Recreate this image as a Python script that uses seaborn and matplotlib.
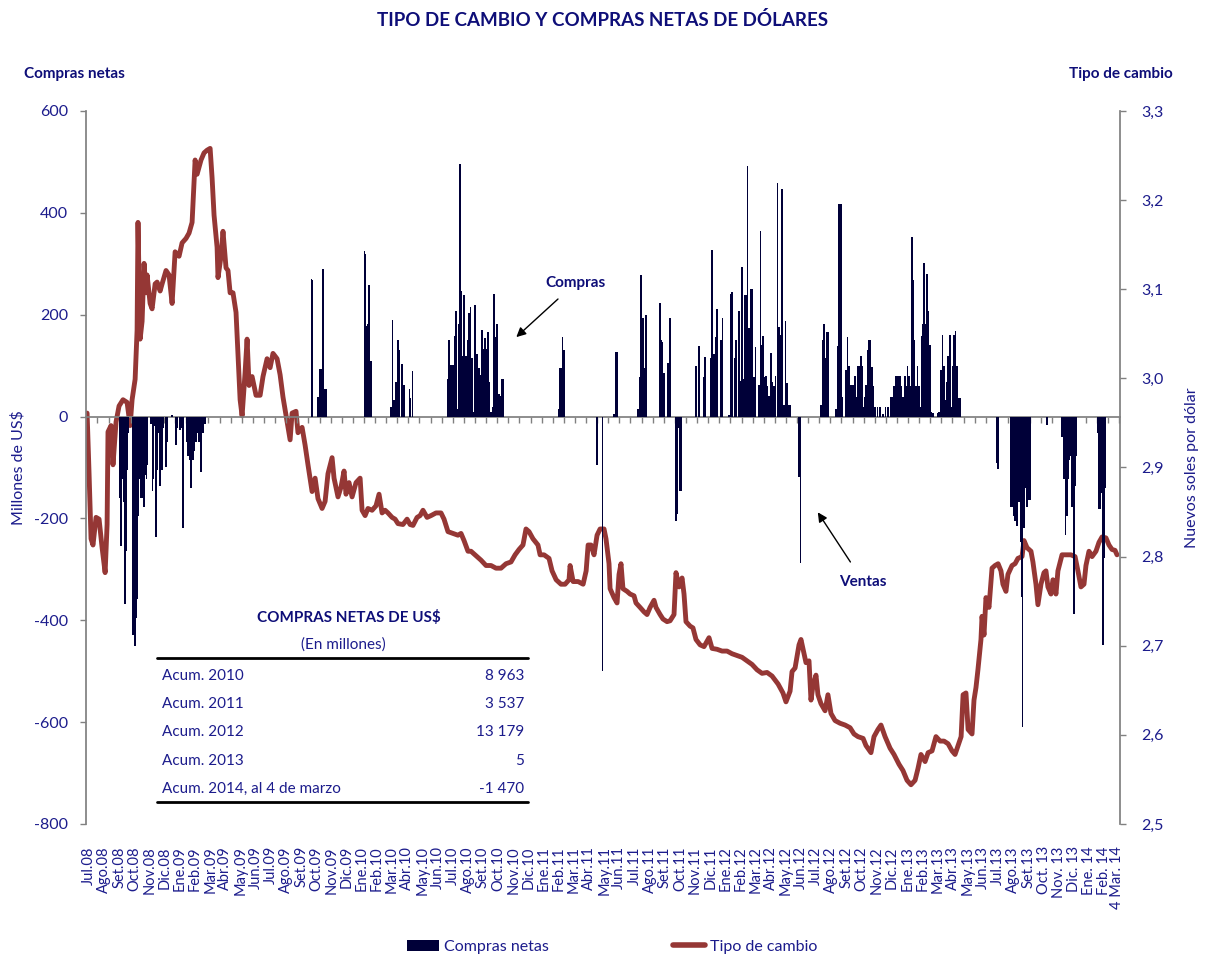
import matplotlib
matplotlib.use('Agg')
import matplotlib.pyplot as plt
import seaborn as sns
import numpy as np
from matplotlib.patches import Patch
from matplotlib.lines import Line2D

# ---- datos (eje x en meses desde Jul.08) ----
meses = ['Jul.08', 'Ago.08', 'Set.08', 'Oct.08', 'Nov.08', 'Dic.08',
         'Ene.09', 'Feb.09', 'Mar.09', 'Abr.09', 'May.09', 'Jun.09',
         'Jul.09', 'Ago.09', 'Set.09', 'Oct.09', 'Nov.09', 'Dic.09',
         'Ene.10', 'Feb.10', 'Mar.10', 'Abr.10', 'May.10', 'Jun.10',
         'Jul.10', 'Ago.10', 'Set.10', 'Oct.10', 'Nov.10', 'Dic.10',
         'Ene.11', 'Feb.11', 'Mar.11', 'Abr.11', 'May.11', 'Jun.11',
         'Jul.11', 'Ago.11', 'Set.11', 'Oct.11', 'Nov.11', 'Dic.11',
         'Ene.12', 'Feb.12', 'Mar.12', 'Abr.12', 'May.12', 'Jun.12',
         'Jul.12', 'Ago.12', 'Set.12', 'Oct.12', 'Nov.12', 'Dic.12',
         'Ene.13', 'Feb.13', 'Mar.13', 'Abr.13', 'May.13', 'Jun.13',
         'Jul.13', 'Ago.13', 'Set.13', 'Oct. 13', 'Nov. 13', 'Dic. 13',
         'Ene. 14', 'Feb. 14', '4 Mar. 14']
meses_pos = list(range(68)) + [67.85]

# tipo de cambio (soles por dolar)
tc_t = [-0.13, 0.00, 0.13, 0.26, 0.46, 0.66, 0.86, 1.06, 1.19, 1.25, 1.45, 1.58, 1.78, 1.98,
        2.24, 2.51, 2.71, 2.84, 3.04, 3.17, 3.23, 3.37, 3.50, 3.63, 3.76, 3.83, 4.03, 4.16,
        4.36, 4.49, 4.69, 4.82, 5.08, 5.28, 5.48, 5.68, 5.94, 6.14, 6.40, 6.60, 6.80, 7.00,
        7.13, 7.39, 7.59, 7.79, 7.99, 8.12, 8.25, 8.45, 8.51, 8.71, 8.84, 9.04, 9.17, 9.31,
        9.50, 9.70, 9.83, 9.97, 10.10, 10.30, 10.43, 10.56, 10.76, 11.02, 11.29, 11.48, 11.75,
        11.95, 12.14, 12.41, 12.61, 12.80, 13.07, 13.27, 13.40, 13.66, 13.79, 14.06, 14.26,
        14.45, 14.72, 14.92, 15.11, 15.38, 15.58, 15.77, 16.04, 16.17, 16.43, 16.63, 16.83,
        16.96, 17.16, 17.36, 17.62, 17.89, 18.02, 18.22, 18.41, 18.68, 18.94, 19.14, 19.34,
        19.54, 19.73, 20.00, 20.20, 20.39, 20.72, 20.99, 21.19, 21.38, 21.65, 21.85, 22.04,
        22.31, 22.57, 22.90, 23.23, 23.43, 23.69, 24.02, 24.35, 24.55, 24.75, 25.01, 25.21,
        25.54, 25.87, 26.20, 26.53, 26.86, 27.19, 27.52, 27.85, 28.12, 28.38, 28.64, 28.84,
        29.04, 29.30, 29.63, 29.77, 30.03, 30.36, 30.56, 30.83, 31.15, 31.42, 31.68, 31.75,
        31.95, 32.28, 32.61, 32.81, 32.94, 33.13, 33.33, 33.53, 33.73, 33.99, 34.12, 34.32,
        34.39, 34.65, 34.85, 34.98, 35.11, 35.24, 35.51, 35.71, 35.97, 36.10, 36.37, 36.63,
        36.83, 37.03, 37.29, 37.42, 37.69, 37.88, 38.15, 38.35, 38.61, 38.74, 38.94, 39.14,
        39.27, 39.40, 39.67, 39.86, 40.06, 40.33, 40.59, 40.92, 41.12, 41.45, 41.78, 42.11,
        42.44, 42.77, 43.10, 43.43, 43.76, 44.09, 44.42, 44.75, 45.08, 45.48, 45.80, 46.00,
        46.27, 46.40, 46.60, 46.86, 46.99, 47.19, 47.32, 47.52, 47.65, 47.78, 47.98, 48.11,
        48.31, 48.58, 48.77, 48.97, 49.24, 49.57, 49.90, 50.23, 50.49, 50.75, 51.09, 51.28,
        51.61, 51.81, 52.07, 52.27, 52.54, 52.87, 53.13, 53.46, 53.72, 53.99, 54.25, 54.52,
        54.71, 54.91, 55.18, 55.38, 55.64, 55.90, 56.17, 56.43, 56.70, 56.96, 57.16, 57.36,
        57.56, 57.69, 57.88, 58.02, 58.28, 58.41, 58.54, 58.67, 58.87, 58.94, 59.07, 59.20,
        59.40, 59.60, 59.80, 60.00, 60.19, 60.32, 60.52, 60.65, 60.92, 61.12, 61.31, 61.58,
        61.71, 61.91, 62.17, 62.30, 62.50, 62.63, 62.83, 63.03, 63.16, 63.29, 63.49, 63.62,
        63.82, 63.95, 64.22, 64.48, 64.81, 65.08, 65.27, 65.47, 65.67, 65.80, 66.00, 66.20,
        66.46, 66.66, 66.86, 67.12, 67.32, 67.52, 67.72, 67.85]
tc_v = [2.961, 2.893, 2.820, 2.813, 2.844, 2.842, 2.810, 2.782, 2.836, 2.940, 2.947, 2.903, 2.951, 2.969,
        2.976, 2.973, 2.947, 2.976, 2.999, 3.054, 3.175, 3.044, 3.064, 3.129, 3.096, 3.116, 3.084, 3.078,
        3.106, 3.108, 3.098, 3.106, 3.121, 3.116, 3.084, 3.142, 3.137, 3.152, 3.157, 3.163, 3.175, 3.245,
        3.229, 3.245, 3.253, 3.256, 3.258, 3.225, 3.183, 3.147, 3.113, 3.137, 3.165, 3.124, 3.121, 3.096,
        3.096, 3.074, 3.028, 2.976, 2.958, 3.007, 3.044, 2.992, 3.002, 2.981, 2.981, 3.002, 3.022,
        3.012, 3.028, 3.022, 3.004, 2.979, 2.951, 2.931, 2.961, 2.963, 2.939, 2.945, 2.925,
        2.903, 2.873, 2.888, 2.865, 2.854, 2.862, 2.893, 2.911, 2.888, 2.867, 2.878, 2.896,
        2.870, 2.883, 2.867, 2.883, 2.888, 2.852, 2.846, 2.854, 2.852, 2.857, 2.870, 2.849,
        2.852, 2.849, 2.844, 2.842, 2.837, 2.836, 2.842, 2.836, 2.835, 2.844, 2.846, 2.852,
        2.844, 2.846, 2.849, 2.849, 2.842, 2.828, 2.826, 2.824, 2.826, 2.818, 2.806, 2.806,
        2.801, 2.796, 2.790, 2.790, 2.787, 2.787, 2.792, 2.794, 2.802, 2.808, 2.813, 2.831,
        2.828, 2.820, 2.813, 2.802, 2.802, 2.798, 2.784, 2.774, 2.769, 2.769, 2.774, 2.790,
        2.772, 2.772, 2.769, 2.784, 2.813, 2.813, 2.802, 2.824, 2.831, 2.831, 2.820, 2.792,
        2.764, 2.754, 2.748, 2.780, 2.792, 2.764, 2.761, 2.758, 2.756, 2.748, 2.743, 2.738,
        2.735, 2.743, 2.751, 2.743, 2.735, 2.730, 2.727, 2.728, 2.735, 2.782, 2.766, 2.776,
        2.758, 2.727, 2.722, 2.720, 2.707, 2.701, 2.699, 2.709, 2.697, 2.696, 2.694, 2.694,
        2.691, 2.689, 2.687, 2.683, 2.679, 2.673, 2.669, 2.670, 2.666, 2.657, 2.647, 2.637,
        2.649, 2.671, 2.675, 2.701, 2.707, 2.691, 2.681, 2.683, 2.639, 2.655, 2.667, 2.645,
        2.635, 2.627, 2.645, 2.624, 2.616, 2.613, 2.611, 2.608, 2.601, 2.598, 2.596, 2.588,
        2.580, 2.598, 2.606, 2.611, 2.598, 2.585, 2.578, 2.567, 2.560, 2.549, 2.544, 2.549,
        2.562, 2.578, 2.570, 2.580, 2.582, 2.598, 2.593, 2.593, 2.590, 2.582, 2.578, 2.588,
        2.598, 2.645, 2.647, 2.606, 2.601, 2.639, 2.653, 2.673, 2.707, 2.733, 2.712, 2.754,
        2.743, 2.787, 2.790, 2.792, 2.784, 2.769, 2.761, 2.780, 2.790, 2.792, 2.798, 2.800,
        2.818, 2.810, 2.806, 2.794, 2.769, 2.746, 2.769, 2.782, 2.784, 2.766, 2.758, 2.774,
        2.758, 2.784, 2.802, 2.802, 2.802, 2.800, 2.784, 2.766, 2.769, 2.790, 2.806, 2.800,
        2.806, 2.816, 2.822, 2.821, 2.813, 2.808, 2.807, 2.802]

# compras netas diarias (millones de US$), solo dias con operacion visible
cn_t = [2.03, 2.09, 2.20, 2.31, 2.36, 2.42, 2.49, 2.57, 2.86, 2.90, 2.97, 3.04, 3.12, 3.19,
        3.25, 3.32, 3.41, 3.48, 3.54, 3.63, 3.70, 3.78, 3.85, 4.07, 4.18, 4.24, 4.34, 4.40,
        4.51, 4.62, 4.69, 4.80, 4.90, 5.06, 5.17, 5.46, 5.72, 5.83, 6.01, 6.09, 6.22, 6.45,
        6.53, 6.67, 6.75, 6.84, 6.93, 7.04, 7.15, 7.26, 7.41, 7.54, 7.64,
        14.69, 14.75, 15.13, 15.25, 15.31, 15.42, 15.51, 15.62,
        18.17, 18.24, 18.33, 18.39, 18.46, 18.53, 18.61, 19.93, 20.02, 20.11, 20.28, 20.37,
        20.46, 20.66, 20.77, 21.14, 21.21, 21.34,
        23.67, 23.74, 23.83, 23.91, 24.04, 24.14, 24.22, 24.31, 24.40, 24.47, 24.53, 24.62,
        24.73, 24.82, 24.90, 25.00, 25.08, 25.17, 25.26, 25.34, 25.46, 25.54, 25.63, 25.72,
        25.85, 25.94, 26.02, 26.12, 26.20, 26.31, 26.40, 26.53, 26.62, 26.73, 26.82, 26.91,
        26.99, 27.08, 27.17, 27.26, 27.34,
        31.00, 31.09, 31.17, 31.26, 31.35, 33.51, 33.90, 34.63, 34.74, 34.80, 34.89,
        36.25, 36.35, 36.41, 36.50, 36.58, 36.70, 36.78, 37.69, 37.77, 37.86, 37.97, 38.17,
        38.26, 38.33, 38.74, 38.83, 38.92, 39.01, 39.09,
        40.04, 40.24, 40.57, 40.64, 41.01, 41.10, 41.18, 41.27, 41.36, 41.45, 41.67, 41.76,
        41.82, 42.22, 42.33, 42.44, 42.64, 42.72, 42.92, 42.99, 43.10, 43.21, 43.30, 43.38,
        43.47, 43.56, 43.65, 43.74, 43.80, 43.87, 43.98, 44.22, 44.31, 44.40, 44.48, 44.57,
        44.66, 44.75, 44.83, 44.93, 45.03, 45.12, 45.21, 45.30, 45.43, 45.52, 45.61, 45.72,
        45.85, 45.96, 46.07, 46.18, 46.29, 46.84, 46.95,
        48.29, 48.40, 48.49, 48.60, 48.71, 48.80, 49.32, 49.43, 49.52, 49.61, 49.74, 49.92,
        50.01, 50.07, 50.16, 50.25, 50.36, 50.47, 50.54, 50.64, 50.75, 50.84, 50.93, 51.02,
        51.13, 51.22, 51.30, 51.39, 51.48, 51.57, 51.66, 51.74, 51.86, 52.03, 52.21, 52.40,
        52.56, 52.73, 52.89, 53.00, 53.15, 53.28, 53.39, 53.51, 53.61, 53.72, 53.84, 53.92,
        54.01, 54.10, 54.19, 54.30, 54.38, 54.47, 54.56, 54.67, 54.76, 54.87, 54.96, 55.04,
        55.13, 55.22, 55.31, 55.39, 55.51, 55.59, 55.70, 56.03, 56.12, 56.21, 56.32, 56.43,
        56.54, 56.63, 56.71, 56.83, 56.91, 57.00, 57.09, 57.18, 57.29, 57.40, 57.49,
        59.91, 60.01, 60.83, 60.92, 61.01, 61.10, 61.18, 61.27, 61.38, 61.47, 61.56, 61.62,
        61.71, 61.80, 61.89, 61.98, 62.06, 62.15, 63.21, 64.18, 64.27, 64.36, 64.44, 64.53,
        64.62, 64.70, 64.79, 64.88, 64.99, 65.08, 65.16, 66.58, 66.67, 66.75, 66.84, 66.93,
        67.01, 67.10]
cn_v = [-159, -255, -123, -168, -368, -264, -105, -32, -86, -428, -305, -450, -396, -359,
        -196, -123, -159, -86, -159, -177, -114, -123, -96, -14, -146, -123, -18, -237,
        -105, -32, -136, -105, -23, -100, -50, 3, -55, -23, -27, -23, -218, -50,
        -77, -86, -141, -86, -68, -50, -32, -50, -109, -32, -14,
        270, 268, 39, 94, 94, 290, 55, 55,
        326, 320, 177, 182, 258, 109, 109, 18, 189, 32, 68, 150,
        130, 103, 61, 54, 36, 90,
        73, 150, 55, 102, 102, 159, 207, 14, 182, 496, 246, 118,
        239, 9, 118, 150, 203, 216, 114, 9, 220, 123, 123, 96,
        82, 170, 132, 155, 132, 166, 68, 9, 18, 241, 156, 182,
        45, 45, 41, 73, 73,
        15, 96, 96, 156, 130, -96, -500, 5, 7, 126, 126,
        14, 77, 277, 27, 194, 96, 200, 223, 150, 146, 86, 106,
        106, 194, -205, -191, -23, -146, -146,
        100, 139, 77, 116, 114, 327, 96, 123, 157, 212, 150, 150,
        193, 3, 241, 245, 114, 150, 207, 70, 293, 73, 238, 238,
        491, 173, 250, 250, 132, 77, 136, 61, 364, 141, 159, 77,
        79, 59, 41, 41, 125, 68, 59, 79, 459, 176, 161, 446,
        23, 188, 65, 23, 23, -118, -287,
        23, 150, 182, 114, 166, 166, 14, 139, 418, 418, 38, 91,
        91, 157, 100, 61, 61, 61, 79, 39, 100, 100, 118, 100,
        18, 39, 61, 130, 150, 150, 98, 59, 18, 18, 18, 5,
        18, 18, 38, 38, 59, 79, 79, 79, 59, 38, 79, 59,
        100, 79, 59, 352, 268, 150, 59, 100, 59, 18, 159, 182,
        302, 182, 279, 207, 141, 9, 6, 6, 9, 91, 161, 100,
        32, 68, 118, 161, 18, 100, 161, 168, 100, 36, 36,
        -91, -103, -177, -177, -196, -205, -73, -214, -168, -246, -355, -610,
        -218, -141, -177, -123, -164, -164, -16, -41, -41, -123, -232, -196,
        -123, -86, -77, -177, -387, -136, -77, -32, -182, -182, -150, -448,
        -277, -141]

tabla_lbl = ['Acum. 2010', 'Acum. 2011', 'Acum. 2012', 'Acum. 2013', 'Acum. 2014, al 4 de marzo']
tabla_val = ['8 963', '3 537', '13 179', '5', '-1 470']

# ---- estilo ----
NAVY_BAR = '#000038'
ROJO = '#953735'
AZUL = '#1C1C8C'
AZUL_OSC = '#0E0E78'
GRIS = '#808080'

sns.set_theme(style='white')
plt.rcParams['font.family'] = ['Lato', 'DejaVu Sans']
plt.rcParams['axes.unicode_minus'] = False

fig = plt.figure(figsize=(12.05, 9.55), dpi=100)
ax = fig.add_axes([0.0714, 0.1372, 0.8581, 0.7466])
ax2 = ax.twinx()

# barras encima de la linea
ax.set_zorder(ax2.get_zorder() + 1)
ax.patch.set_visible(False)

ax.bar(cn_t, cn_v, width=0.11, color=NAVY_BAR, linewidth=0)
sns.lineplot(x=tc_t, y=tc_v, ax=ax2, color=ROJO, linewidth=3.5,
             estimator=None, sort=False, legend=False)

ax.set_xlim(-0.2, 68.05)
ax.set_ylim(-800, 600)
ax2.set_ylim(2.5, 3.3)

# ejes
for s in ['top', 'bottom', 'right']:
    ax.spines[s].set_visible(False)
for s in ['top', 'bottom', 'left']:
    ax2.spines[s].set_visible(False)
ax.spines['left'].set_color(GRIS)
ax2.spines['right'].set_color(GRIS)

ax.set_yticks(np.arange(-800, 601, 200))
ax.tick_params(axis='y', direction='out', length=4, width=1, color=GRIS,
               labelsize=11.5, labelcolor=AZUL, pad=9, left=True)
ax2.set_yticks(np.arange(2.5, 3.31, 0.1))
ax2.set_yticklabels([f'{v:.1f}'.replace('.', ',') for v in np.arange(2.5, 3.31, 0.1)])
ax2.tick_params(axis='y', direction='out', length=4, width=1, color=GRIS,
                labelsize=11.5, labelcolor=AZUL, pad=11, right=True)
ax2.grid(False)
ax.grid(False)

ax.set_xticks(meses_pos)
ax.set_xticklabels(meses, rotation=90)
ax.tick_params(axis='x', length=0, pad=16, labelsize=10.5, labelcolor=AZUL)

# linea del cero con marcas
cero = ax.secondary_xaxis(800 / 1400)
cero.set_alignment('bottom')
cero.spines['bottom'].set_color(GRIS)
cero.set_xticks(np.arange(0.55, 68.0, 0.733))
cero.tick_params(axis='x', direction='out', length=4, width=1, color=GRIS,
                 labelbottom=False)

# textos
fig.text(0.5, 0.979, 'TIPO DE CAMBIO Y COMPRAS NETAS DE DÓLARES', ha='center', va='center',
         fontsize=13.5, fontweight='bold', color=AZUL_OSC)
fig.text(0.02, 0.9225, 'Compras netas', ha='left', va='center', fontsize=11,
         fontweight='bold', color=AZUL_OSC)
fig.text(0.9734, 0.9225, 'Tipo de cambio', ha='right', va='center', fontsize=11,
         fontweight='bold', color=AZUL_OSC)
fig.text(0.015, 0.5105, 'Millones de US$', rotation=90, ha='center', va='center',
         fontsize=11.5, color=AZUL)
fig.text(0.989, 0.5105, 'Nuevos soles por dólar', rotation=90, ha='center', va='center',
         fontsize=11.5, color=AZUL)

ax.annotate('Compras', xy=(28.2, 156), xytext=(32.1, 262), ha='center', va='center',
            fontsize=11, fontweight='bold', color=AZUL_OSC,
            arrowprops=dict(arrowstyle='-|>', color='black', lw=1, mutation_scale=14,
                            shrinkA=6, shrinkB=0))
ax.annotate('Ventas', xy=(48.1, -188), xytext=(51.1, -324), ha='center', va='center',
            fontsize=11, fontweight='bold', color=AZUL_OSC,
            arrowprops=dict(arrowstyle='-|>', color='black', lw=1, mutation_scale=14,
                            shrinkA=8, shrinkB=0))

# tabla de acumulados
fig.text(0.2896, 0.3539, 'COMPRAS NETAS DE US$', ha='center', va='center',
         fontsize=11, fontweight='bold', color=AZUL_OSC)
fig.text(0.2846, 0.3246, '(En millones)', ha='center', va='center', fontsize=11, color=AZUL)
fig.add_artist(Line2D([0.1303, 0.4382], [0.3110, 0.3110], transform=fig.transFigure,
                      color='black', lw=2))
fig.add_artist(Line2D([0.1303, 0.4382], [0.1602, 0.1602], transform=fig.transFigure,
                      color='black', lw=2))
filas_y = [0.2921, 0.2628, 0.2335, 0.2031, 0.1738]
for lbl, val, yy in zip(tabla_lbl, tabla_val, filas_y):
    fig.text(0.1344, yy, lbl, ha='left', va='center', fontsize=11, color=AZUL)
    fig.text(0.4349, yy, val, ha='right', va='center', fontsize=11, color=AZUL)

# leyenda
handles = [Patch(facecolor=NAVY_BAR, edgecolor='none', label='Compras netas'),
           Line2D([0], [0], color=ROJO, lw=4, label='Tipo de cambio')]
leg = fig.legend(handles=handles, loc='center', bbox_to_anchor=(0.508, 0.0085), ncol=2,
                 frameon=False, fontsize=11.5, handlelength=2.0, handletextpad=0.3,
                 columnspacing=7.8)
for t in leg.get_texts():
    t.set_color(AZUL)

fig.savefig('out.png', dpi=100)
